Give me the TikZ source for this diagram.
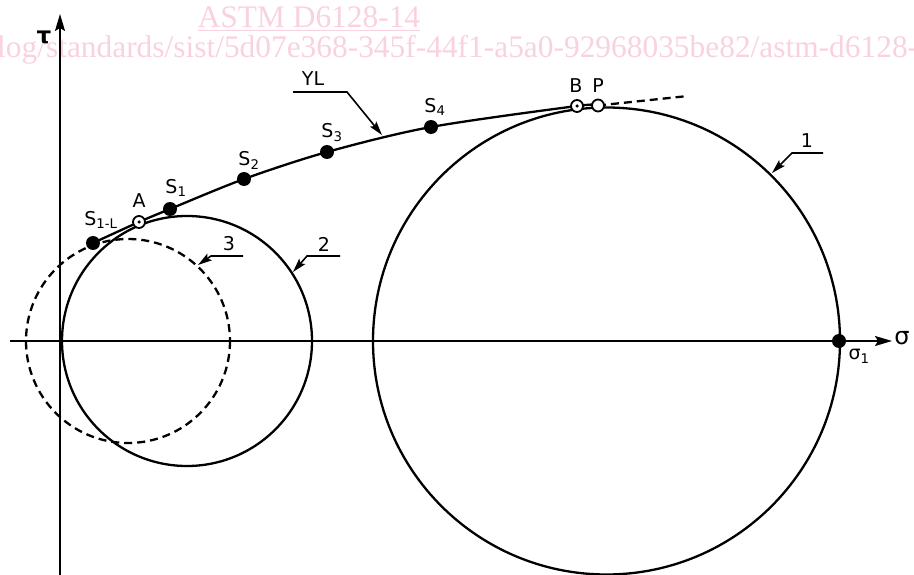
\documentclass[tikz,border=0pt]{standalone}
\usepackage{fontspec}
\setmainfont{DejaVu Sans}
\newfontfamily\wmfont{Liberation Serif}
\usetikzlibrary{arrows.meta}
\definecolor{wmpink}{RGB}{249,210,222}
\begin{document}
\begin{tikzpicture}[x=1pt,y=-1pt,
  curve/.style={line width=2.3pt},
  dashcurve/.style={line width=2.3pt,dash pattern=on 8pt off 5pt},
  axisline/.style={line width=1.7pt,-{Stealth[length=17pt,width=10pt,inset=3pt]}},
  leadarrow/.style={line width=1.6pt,-{Stealth[length=14pt,width=8pt,inset=2.5pt]}},
  dot/.style={circle,fill=black,inner sep=0pt,minimum size=14pt},
  odot/.style={circle,draw=black,fill=white,line width=1.8pt,inner sep=0pt,minimum size=12pt},
  cdot/.style={circle,fill=black,inner sep=0pt,minimum size=3.5pt},
  lab/.style={font=\fontsize{19}{22}\selectfont,inner sep=0pt},
  wm/.style={text=wmpink,inner sep=0pt,font=\wmfont\fontsize{31.4}{31.4}\selectfont},
]
\useasboundingbox (0,0) rectangle (914,575);
% watermark
\begin{scope}
\clip (0,0) rectangle (914,575);
\node[wm,anchor=base] (wm1) at (309,28) {\underline{ASTM D6128-14}};
\node[wm,anchor=base west] (wm2) at (-3,58) {log/standards/sist/5d07e368-345f-44f1-a5a0-92968035be82/astm-d6128-14};
\end{scope}
% axes
\coordinate (tb) at (60,575);
\coordinate (tt) at (60,14);
\coordinate (sl) at (10,341);
\coordinate (sr) at (892,341);
\draw[axisline] (tb) -- (tt);
\draw[axisline] (sl) -- (sr);
\node[font=\fontsize{23}{25}\selectfont\bfseries,inner sep=0pt] (tau) at (44,37) {τ};
\node[font=\fontsize{24}{26}\selectfont,inner sep=0pt] (sig) at (902,338) {σ};
% circles
\coordinate (c1) at (606.5,341);
\coordinate (c2) at (187,341);
\coordinate (c3) at (128,341);
\draw[curve] (c1) circle[radius=233.5];
\draw[curve] (c2) circle[radius=125];
\draw[dashcurve] (c3) circle[radius=102];
% yield locus
\coordinate (pS1L) at (93,243);
\coordinate (pA) at (139,222);
\coordinate (pS1) at (170,209);
\coordinate (pS2) at (244,179);
\coordinate (pS3) at (327,152);
\coordinate (pS4) at (431,127);
\coordinate (pB) at (577,106);
\coordinate (pP) at (598,105.5);
\coordinate (pE) at (688,96);
\draw[curve] plot[smooth,tension=0.5] coordinates {(93,243) (139,222) (170,209) (244,179) (327,152) (431,127) (577,106) (598,105.5)};
\draw[dashcurve] (pP) -- (pE);
% points
\node[dot] (S1L) at (pS1L) {};
\node[dot] (S1) at (pS1) {};
\node[dot] (S2) at (pS2) {};
\node[dot] (S3) at (pS3) {};
\node[dot] (S4) at (pS4) {};
\node[dot] (sig1) at (839,341) {};
\node[odot] (A) at (pA) {};
\node[cdot] at (A.center) {};
\node[odot] (B) at (pB) {};
\node[cdot] at (B.center) {};
\node[odot] (P) at (pP) {};
% point labels
\node[lab] (lS1L) at (101,220) {S\textsubscript{1-L}};
\node[lab] (lA) at (139,201) {A};
\node[lab] (lS1) at (176,188) {S\textsubscript{1}};
\node[lab] (lS2) at (249,160) {S\textsubscript{2}};
\node[lab] (lS3) at (332,133) {S\textsubscript{3}};
\node[lab] (lS4) at (435,107) {S\textsubscript{4}};
\node[lab] (lB) at (576,86) {B};
\node[lab] (lP) at (598,86) {P};
\node[lab] (lsig1) at (859,356) {σ\textsubscript{1}};
% leaders
\node[lab] (lYL) at (313,79) {YL};
\coordinate (yl1) at (293,92);
\coordinate (yl2) at (347,92);
\coordinate (yl3) at (382,135);
\draw[leadarrow] (yl1) -- (yl2) -- (yl3);
\node[lab] (l1) at (807,141) {1};
\coordinate (a1) at (823,153);
\coordinate (b1) at (792,153);
\coordinate (t1) at (772,173);
\draw[leadarrow] (a1) -- (b1) -- (t1);
\node[lab] (l2) at (324,244) {2};
\coordinate (a2) at (340,256);
\coordinate (b2) at (307,256);
\coordinate (t2) at (293,272);
\draw[leadarrow] (a2) -- (b2) -- (t2);
\node[lab] (l3) at (229,244) {3};
\coordinate (a3) at (243,256);
\coordinate (b3) at (211,256);
\coordinate (t3) at (198,265);
\draw[leadarrow] (a3) -- (b3) -- (t3);
\end{tikzpicture}
\end{document}
